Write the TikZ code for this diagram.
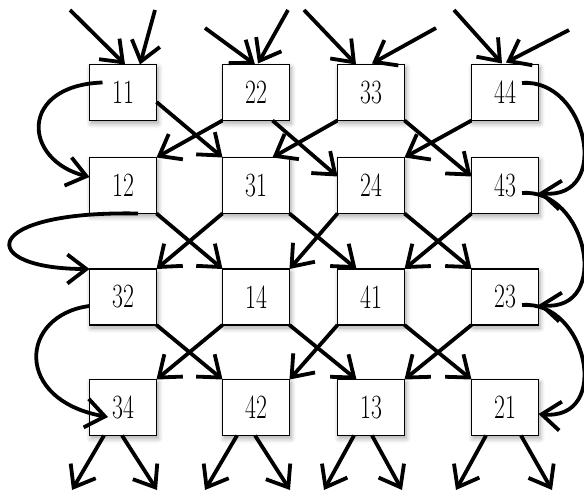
\documentclass[tikz,border=0pt]{standalone}
\usetikzlibrary{arrows.meta,calc,shadows.blur}
\begin{document}
\begin{tikzpicture}[x=1pt,y=-1pt,
  cell/.style={draw=black, line width=1.6pt, fill=white, minimum width=67pt, minimum height=56pt,
    inner sep=0pt, outer sep=0pt,
    blur shadow={shadow xshift=1.5pt, shadow yshift=-3pt, shadow blur steps=6, shadow opacity=35, shadow blur radius=5pt},
    font=\fontsize{34}{34}\selectfont},
  arr/.style={line width=3.8pt, -{Straight Barb[length=19pt,width=29pt]}},
]
\useasboundingbox (0,0) rectangle (584,497);
\newcommand{\lbl}[1]{\scalebox{0.7}[1]{#1}}
% boxes
\node[cell] (n11) at (123,92.5) {\lbl{11}};
\node[cell] (n22) at (256,92.5) {\lbl{22}};
\node[cell] (n33) at (371,92.5) {\lbl{33}};
\node[cell] (n44) at (505,92.5) {\lbl{44}};
\node[cell] (n12) at (123,185.5) {\lbl{12}};
\node[cell] (n31) at (256,185.5) {\lbl{31}};
\node[cell] (n24) at (371,185.5) {\lbl{24}};
\node[cell] (n43) at (505,185.5) {\lbl{43}};
\node[cell] (n32) at (123,297) {\lbl{32}};
\node[cell] (n14) at (256,297) {\lbl{14}};
\node[cell] (n41) at (371,297) {\lbl{41}};
\node[cell] (n23) at (505,297) {\lbl{23}};
\node[cell] (n34) at (123,407.5) {\lbl{34}};
\node[cell] (n42) at (256,407.5) {\lbl{42}};
\node[cell] (n13) at (371,407.5) {\lbl{13}};
\node[cell] (n21) at (505,407.5) {\lbl{21}};
% free ends
\coordinate (i11a) at (70,10);  \coordinate (i11b) at (155,10);
\coordinate (i22a) at (205,28); \coordinate (i22b) at (288,10);
\coordinate (i33a) at (304,10); \coordinate (i33b) at (436,28);
\coordinate (i44a) at (454,10); \coordinate (i44b) at (569,30);
\coordinate (o34a) at (72,490);  \coordinate (o34b) at (157,490);
\coordinate (o42a) at (205,490); \coordinate (o42b) at (290,490);
\coordinate (o13a) at (324,490); \coordinate (o13b) at (402,490);
\coordinate (o21a) at (456,490); \coordinate (o21b) at (552,490);
% inputs
\draw[arr] (i11a) -- ($(n11.north)+(2,0)$);
\draw[arr] (i11b) -- ($(n11.north)+(17,0)$);
\draw[arr] (i22a) -- ($(n22.north)+(-1,0)$);
\draw[arr] (i22b) -- ($(n22.north)+(2,-1)$);
\draw[arr] (i33a) -- ($(n33.north)+(-15,0)$);
\draw[arr] (i33b) -- ($(n33.north)+(1,-1)$);
\draw[arr] (i44a) -- ($(n44.north)+(-3,-1)$);
\draw[arr] (i44b) -- ($(n44.north)+(1,-2)$);
% outputs
\draw[arr] ($(n34.south)+(-19,0)$) -- (o34a);
\draw[arr] ($(n34.south)+(-1,0)$) -- (o34b);
\draw[arr] ($(n42.south)+(-19,0)$) -- (o42a);
\draw[arr] ($(n42.south)+(-1,0)$) -- (o42b);
\draw[arr] ($(n13.south)+(-17,0)$) -- (o13a);
\draw[arr] ($(n13.south)+(1,0)$) -- (o13b);
\draw[arr] ($(n21.south)+(-19,0)$) -- (o21a);
\draw[arr] ($(n21.south)+(16,0)$) -- (o21b);
% row 1 -> row 2
\draw[arr] ($(n11.east)+(0,9.5)$) -- (n31.north west);
\draw[arr] (n22.south west) -- (n12.north east);
\draw[arr] ($(n22.south east)+(-17,0)$) -- ($(n24.north west)+(0,19)$);
\draw[arr] (n33.south west) -- ($(n31.north east)+(-17,0)$);
\draw[arr] (n33.south east) -- ($(n43.north west)+(0,19)$);
\draw[arr] (n44.south west) -- (n24.north east);
% row 2 -> row 3
\draw[arr] (n12.south east) -- (n14.north west);
\draw[arr] (n31.south west) -- (n32.north east);
\draw[arr] (n31.south east) -- ($(n41.north west)+(19,0)$);
\draw[arr] (n24.south west) -- (n14.north east);
\draw[arr] (n24.south east) -- (n23.north west);
\draw[arr] (n43.south west) -- (n41.north east);
% row 3 -> row 4
\draw[arr] (n32.south east) -- (n42.north west);
\draw[arr] (n14.south west) -- (n34.north east);
\draw[arr] (n14.south east) -- ($(n13.north west)+(19,0)$);
\draw[arr] (n41.south west) -- (n42.north east);
\draw[arr] (n41.south east) -- (n21.north west);
\draw[arr] (n23.south west) -- (n13.north east);
% left loops
\draw[arr] ($(n11.west)+(13,-10)$) .. controls +(-84,3) and +(-67,-17) .. ($(n12.west)+(0,-8.5)$);
\draw[arr] ($(n12.south)+(15,0)$) .. controls +(-160,-3) and +(-114,0) .. (n32.north west);
\draw[arr] ($(n32.west)+(0,9)$) .. controls +(-70,9) and +(-95,-17) .. ($(n34.west)+(18.5,9.5)$);
% right loops
\draw[arr] ($(n44.east)+(-16.5,-9.5)$) .. controls +(65,-5) and +(74,7) .. ($(n43.east)+(0,7.5)$);
\draw[arr] ($(n43.east)+(-16.5,7.5)$) .. controls +(65,-5) and +(74,7) .. ($(n23.east)+(0,8)$);
\draw[arr] ($(n23.east)+(-16.5,8)$) .. controls +(65,-5) and +(74,7) .. ($(n21.east)+(0,6.5)$);
\end{tikzpicture}
\end{document}
